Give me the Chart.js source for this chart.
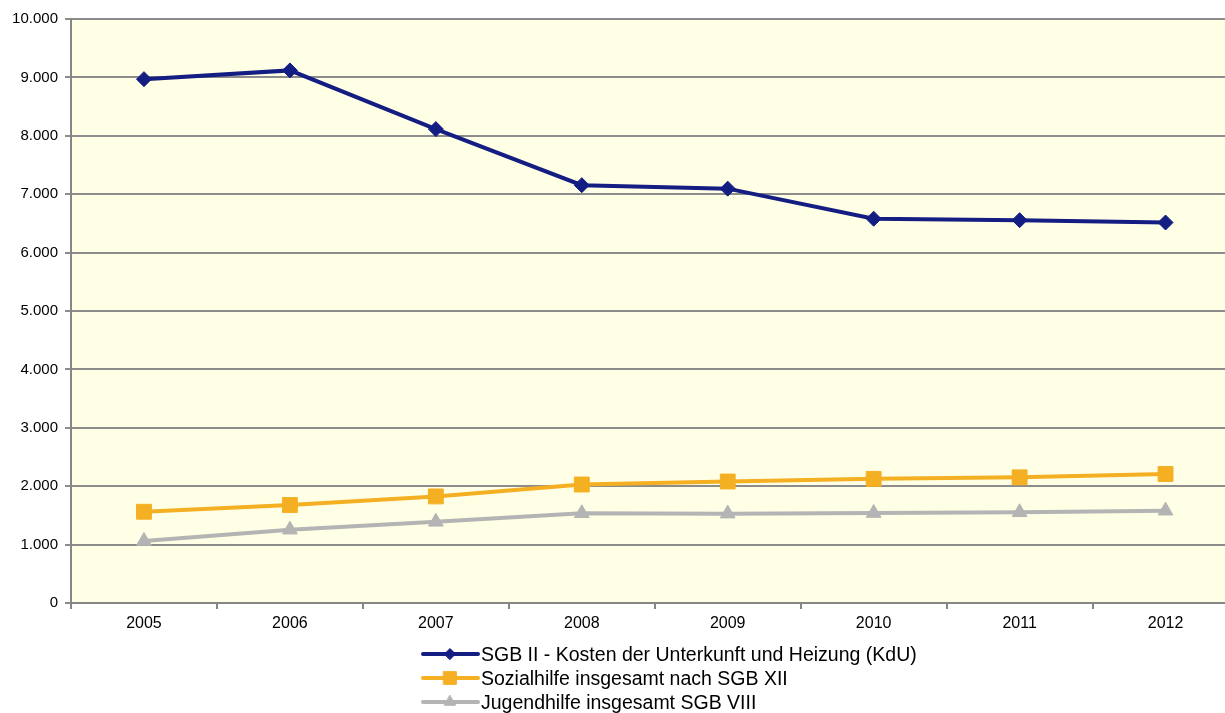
<!DOCTYPE html>
<html>
<head>
<meta charset="utf-8">
<script src="https://cdn.jsdelivr.net/npm/chart.js@4/dist/chart.umd.min.js"></script>
<style>
  html, body { margin: 0; padding: 0; background: #fff; overflow: hidden; width: 1225px; height: 713px; }
  #mainChart { position: absolute; left: 0; top: 0; }
  #legend { position: absolute; left: 421px; top: 642px; font-family: "Liberation Sans", Arial, sans-serif; font-size: 19.5px; color: #000; }
  .row { height: 24px; display: flex; align-items: center; white-space: nowrap; }
</style>
</head>
<body>
<canvas id="mainChart" width="1250" height="640"></canvas>
<div id="legend"></div>
<script>
// Data
const years = ["2005", "2006", "2007", "2008", "2009", "2010", "2011", "2012"];
const kduValues = [8970, 9120, 8115, 7155, 7095, 6580, 6555, 6515];
const sozialValues = [1563, 1678, 1825, 2029, 2080, 2126, 2152, 2209];
const jugendValues = [1062, 1255, 1390, 1536, 1530, 1540, 1553, 1580];
const yTicks = [0, 1000, 2000, 3000, 4000, 5000, 6000, 7000, 8000, 9000, 10000];

const seriesNames = [
    "SGB II - Kosten der Unterkunft und Heizung (KdU)",
    "Sozialhilfe insgesamt nach SGB XII",
    "Jugendhilfe insgesamt SGB VIII"
];

// format 10000 -> 10.000
function fmt(v) {
    return String(v).replace(/\B(?=(\d{3})+(?!\d))/g, ".");
}

// yellow plot background
const plotBg = {
    id: "plotBg",
    beforeDraw(chart) {
        const a = chart.chartArea;
        const ctx = chart.ctx;
        ctx.save();
        ctx.fillStyle = "#FFFFE6";
        ctx.fillRect(a.left, a.top, a.right - a.left, a.bottom - a.top);
        ctx.restore();
    }
};

const datasets = [
    { label: seriesNames[0], data: kduValues, borderColor: "#141D82", backgroundColor: "#141D82",
      pointStyle: "rectRot", pointRadius: 7.5, legendRadius: 5.5 },
    { label: seriesNames[1], data: sozialValues, borderColor: "#F5AF22", backgroundColor: "#F5AF22",
      pointStyle: "rect", pointRadius: 10.5, legendRadius: 9 },
    { label: seriesNames[2], data: jugendValues, borderColor: "#B4B4B4", backgroundColor: "#B4B4B4",
      pointStyle: "triangle", pointRadius: 8.5, legendRadius: 6.5 }
].map(d => Object.assign({
    borderWidth: 4,
    pointBorderWidth: 1,
    pointHoverRadius: d.pointRadius,
    tension: 0
}, d));

const xFont = { family: "'Liberation Sans', Arial, sans-serif", size: 16 };
const yFont = { family: "'Liberation Sans', Arial, sans-serif", size: 15 };

const ctx = document.getElementById("mainChart").getContext("2d");
const chart = new Chart(ctx, {
    type: "line",
    data: { labels: years, datasets: datasets },
    plugins: [plotBg],
    options: {
        responsive: false,
        animation: false,
        layout: { padding: { top: 19, right: 2, left: 0, bottom: 0 } },
        plugins: {
            legend: { display: false },
            tooltip: { enabled: false }
        },
        scales: {
            x: {
                offset: true,
                grid: { offset: true, drawOnChartArea: false, drawTicks: true, tickLength: 6, color: "#868686", lineWidth: 2 },
                border: { color: "#868686", width: 2 },
                ticks: { color: "#000", font: xFont, padding: 5, maxRotation: 0 },
                afterFit(scale) { scale.height = 37; }
            },
            y: {
                min: 0,
                max: 10000,
                afterBuildTicks(scale) { scale.ticks = yTicks.map(v => ({ value: v })); },
                grid: { color: "#8C8C8C", lineWidth: 2, tickLength: 6 },
                border: { color: "#868686", width: 2 },
                ticks: { color: "#000", font: yFont, padding: 7, callback: v => fmt(v) },
                afterFit(scale) { scale.width = 71; }
            }
        }
    }
});

// legend: stacked rows with line + marker
const legendEl = document.getElementById("legend");
datasets.forEach(d => {
    const row = document.createElement("div");
    row.className = "row";
    const c = document.createElement("canvas");
    c.width = 60; c.height = 20;
    const g = c.getContext("2d");
    g.strokeStyle = d.borderColor;
    g.lineWidth = 4;
    g.lineCap = "round";
    g.beginPath(); g.moveTo(2, 10); g.lineTo(57, 10); g.stroke();
    g.fillStyle = d.backgroundColor;
    g.strokeStyle = d.borderColor;
    g.lineWidth = 1;
    Chart.helpers.drawPoint(g, { pointStyle: d.pointStyle, radius: d.legendRadius, rotation: 0, borderWidth: 1 }, 29, 10);
    row.appendChild(c);
    const span = document.createElement("span");
    span.textContent = d.label;
    row.appendChild(span);
    legendEl.appendChild(row);
});
</script>
</body>
</html>
